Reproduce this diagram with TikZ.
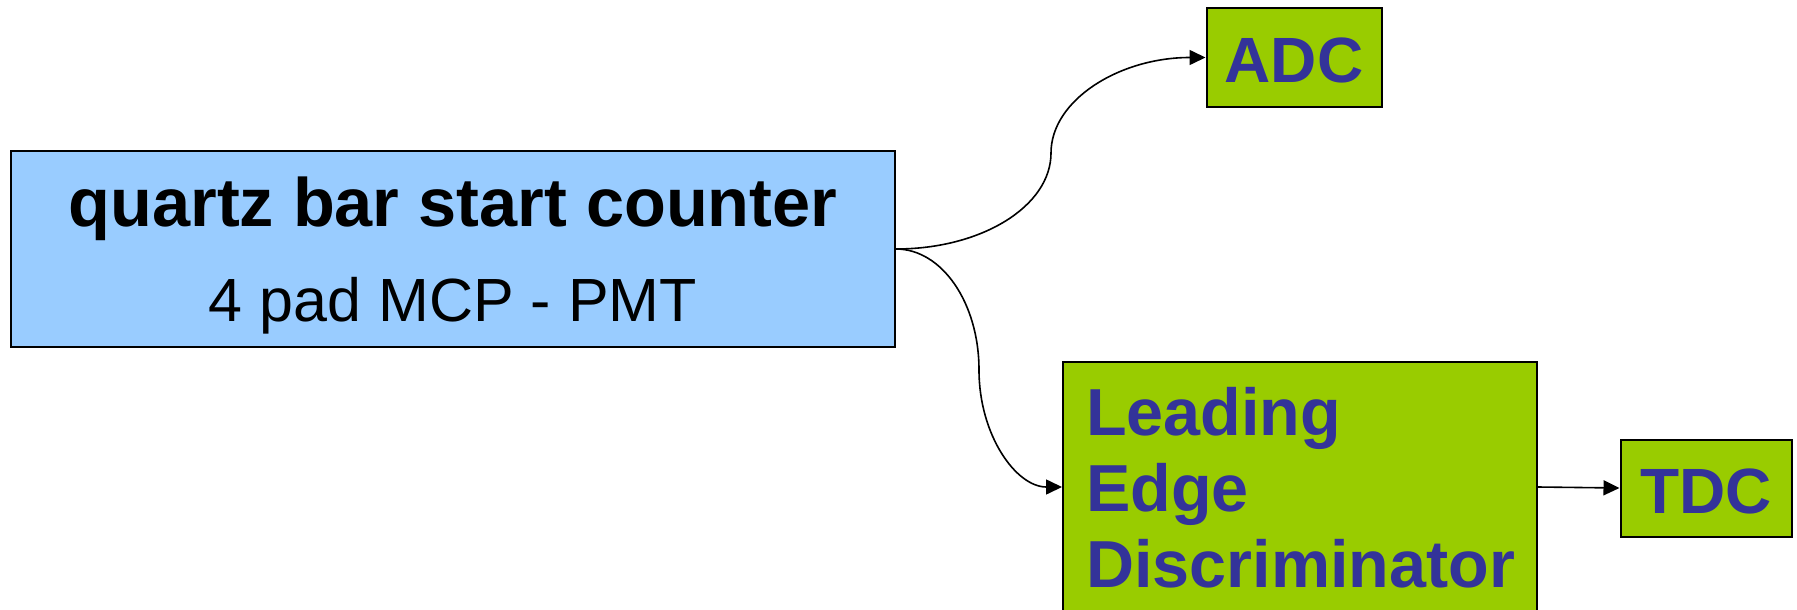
\documentclass[tikz,border=0pt]{standalone}
\usepackage{fontspec}
\setmainfont{Liberation Sans}
\usetikzlibrary{arrows.meta}
\definecolor{boxblue}{HTML}{99CCFF}
\definecolor{boxgreen}{HTML}{99CC00}
\definecolor{txtblue}{HTML}{333399}
\begin{document}
\begin{tikzpicture}[x=1pt,y=-1pt,
  box/.style={draw=black, line width=2pt, inner sep=0pt, rectangle},
  conn/.style={line width=1.6pt, -{Triangle[length=16pt,width=15pt]}},
  lbl/.style={anchor=base, inner sep=0pt, text=txtblue, font=\fontsize{64}{76}\selectfont\bfseries},
  lblw/.style={anchor=base west, inner sep=0pt, text=txtblue, font=\fontsize{66.5}{76}\selectfont\bfseries}]
\useasboundingbox (0,0) rectangle (1797,610);
% boxes
\node[box, fill=boxblue, minimum width=884pt, minimum height=196pt] (qb) at (453,249) {};
\node[anchor=base, inner sep=0pt, font=\fontsize{68.5}{70}\selectfont\bfseries] (qbt) at (453,226) {quartz bar start counter};
\node[anchor=base, inner sep=0pt, font=\fontsize{61}{70}\selectfont] (qbs) at (453,321) {4 pad MCP - PMT};
\node[box, fill=boxgreen, minimum width=175pt, minimum height=99pt] (adc) at (1294,57.5) {};
\node[lbl] (adct) at (1294,83) {ADC};
\node[box, fill=boxgreen, minimum width=474pt, minimum height=250pt] (led) at (1300,487) {};
\node[lblw] (l1) at (1086,435) {Leading};
\node[lblw] (l2) at (1086,511) {Edge};
\node[lblw] (l3) at (1086,587) {Discriminator};
\node[box, fill=boxgreen, minimum width=171pt, minimum height=97pt] (tdc) at (1706,488) {};
\node[lbl] (tdct) at (1706,513) {TDC};
% connectors
\coordinate (m1) at (1051,153);
\coordinate (m2) at (979,370);
\draw[conn] (qb.east) .. controls +(86,0) and +(0,53) .. (m1) .. controls +(0,-53) and +(-86,0) .. (adc.west);
\draw[conn] (qb.east) .. controls +(46,0) and +(0,-67) .. (m2) .. controls +(0,65) and +(-46,0) .. (led.west);
\draw[conn] (led.east) -- (tdc.west);
\end{tikzpicture}
\end{document}
